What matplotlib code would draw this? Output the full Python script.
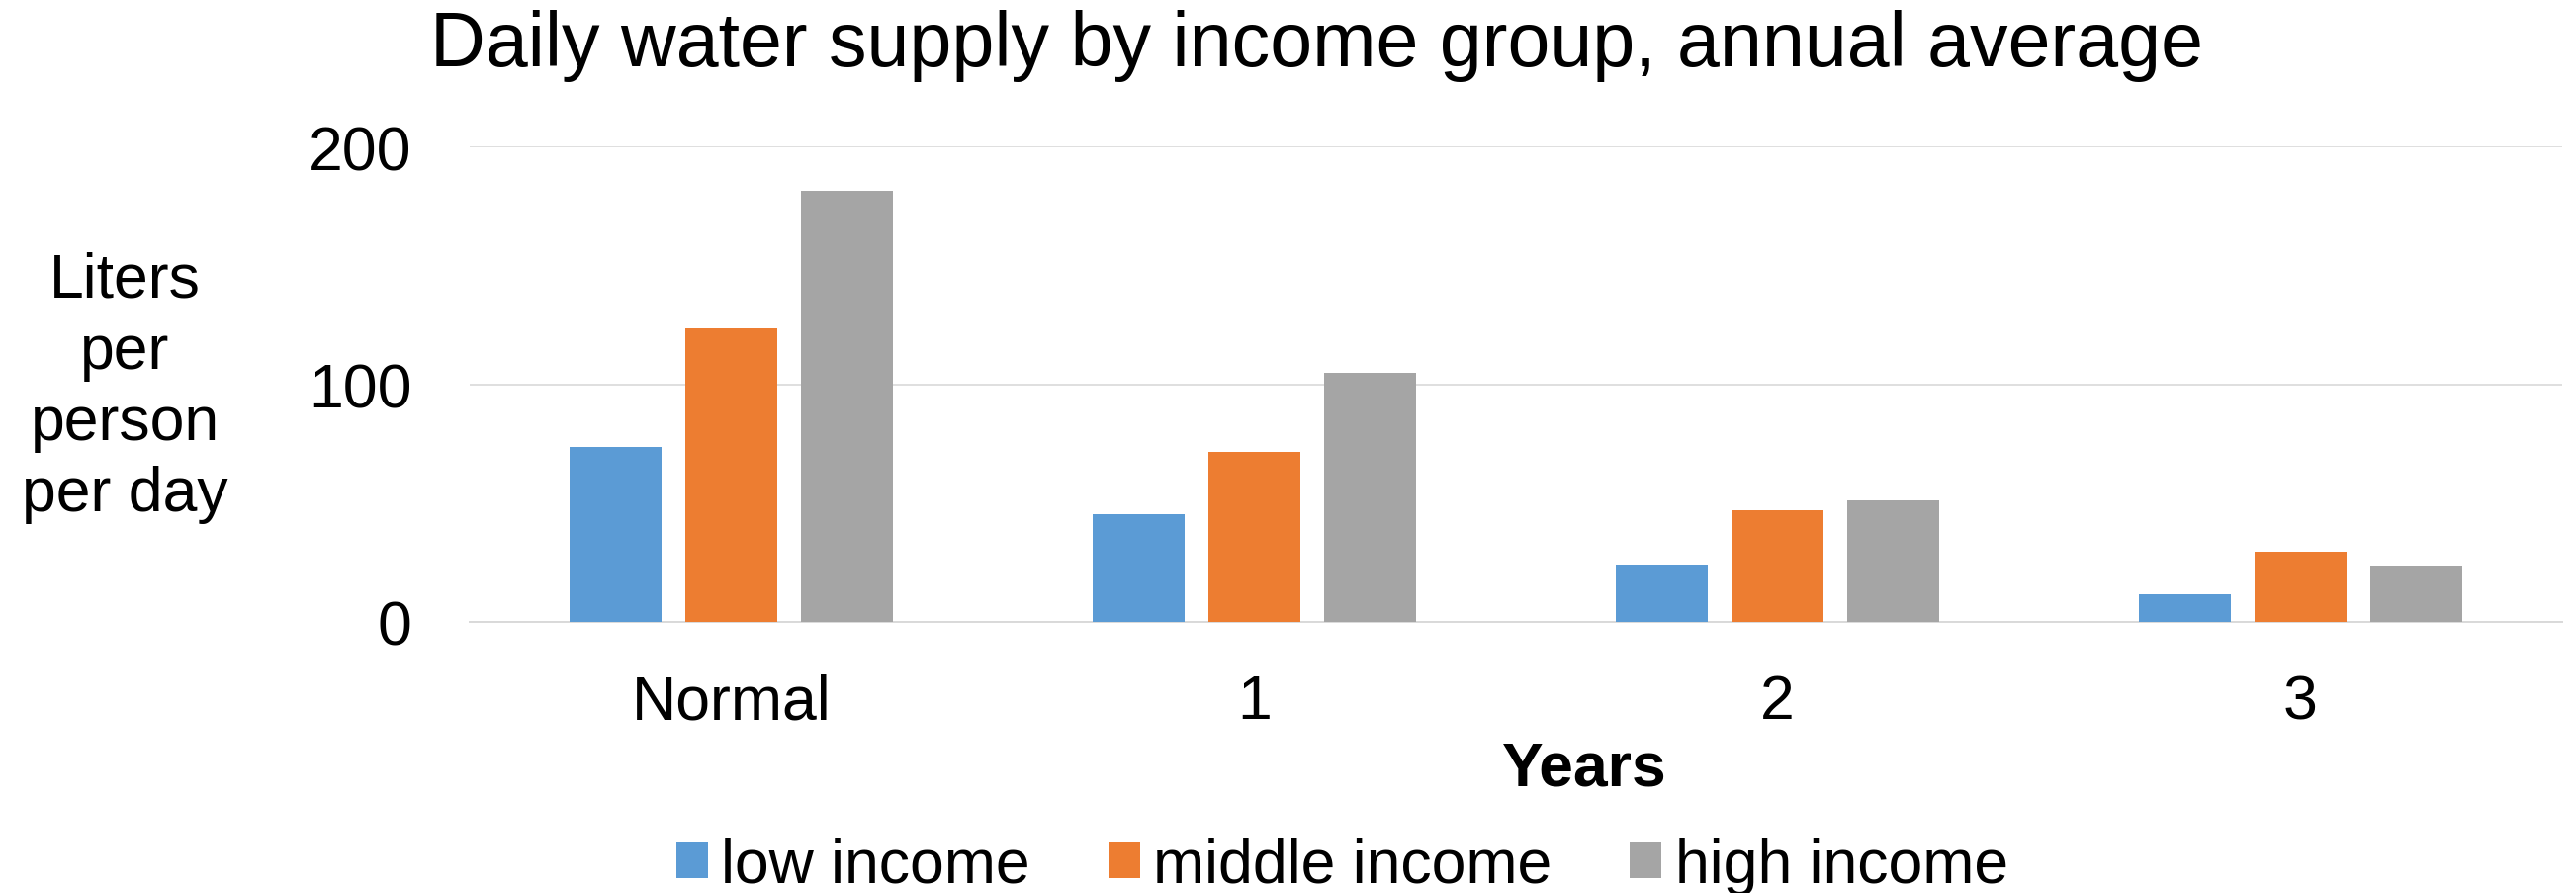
import numpy as np
import matplotlib
matplotlib.use('Agg')
import matplotlib.pyplot as plt
from matplotlib.patches import Patch

# ---------------------------------------------------
# DATA
# ---------------------------------------------------
periods = ['Normal', '1', '2', '3']
groups = ['low income', 'middle income', 'high income']

low_income = [73.5, 45.5, 24.3, 11.8]
middle_income = [123.6, 71.5, 47.2, 29.5]
high_income = [181.4, 105.0, 51.0, 23.7]

colors = ['#5B9BD5', '#ED7D31', '#A5A5A5']

plt.rcParams['font.family'] = ['Liberation Sans', 'DejaVu Sans']

# ---------------------------------------------------
# FIGURE
# ---------------------------------------------------
fig = plt.figure(figsize=(26.05, 9.04), dpi=100)
ax = fig.add_axes([0.1823, 0.3031, 0.8123, 0.5318])

x = np.arange(len(periods))
step = 0.2213
width = 0.1755

for i, (vals, c) in enumerate(zip([low_income, middle_income, high_income], colors)):
    ax.bar(x + (i - 1) * step, vals, width=width, color=c, zorder=3)

ax.set_xlim(-0.5, len(periods) - 0.5)
ax.set_ylim(0, 200)
ax.set_yticks([0, 100, 200])
ax.set_xticks(x)
ax.set_xticklabels(periods)

ax.grid(axis='y', color='#D9D9D9', linewidth=1.2, zorder=0)
for side in ['top', 'right', 'left']:
    ax.spines[side].set_visible(False)
ax.spines['bottom'].set_color('#D9D9D9')
ax.spines['bottom'].set_linewidth(1.4)

ax.tick_params(axis='y', length=0, pad=42, labelsize=45)
ax.tick_params(axis='x', length=0, pad=37, labelsize=45)

# ---------------------------------------------------
# TEXT
# ---------------------------------------------------
fig.text(0.511, 0.9262, 'Daily water supply by income group, annual average',
         ha='center', va='baseline', fontsize=55.5)

fig.text(0.0484, 0.566, 'Liters\nper\nperson\nper day',
         ha='center', va='center', multialignment='center',
         fontsize=45, linespacing=1.29)

fig.text(0.615, 0.1206, 'Years', ha='center', va='baseline',
         fontsize=45, fontweight='bold')

handles = [Patch(facecolor=c, edgecolor='none') for c in colors]
fig.legend(handles, groups, loc='center', bbox_to_anchor=(0.5211, 0.0305),
           ncol=3, frameon=False, fontsize=45,
           handlelength=0.51, handleheight=0.53,
           handletextpad=0.22, columnspacing=1.26,
           borderpad=0, borderaxespad=0)

fig.savefig('out.png', dpi=100, facecolor='white')
